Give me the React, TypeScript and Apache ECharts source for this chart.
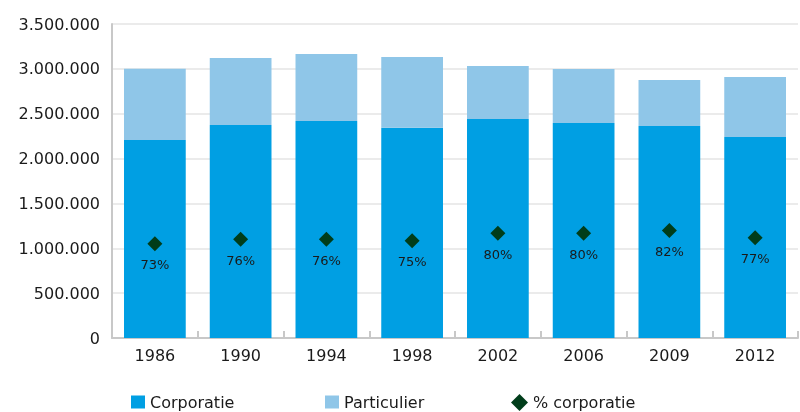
import React, { useEffect, useRef } from "react";
import * as echarts from "echarts";

const years = ["1986", "1990", "1994", "1998", "2002", "2006", "2009", "2012"];
const corporatie = [2207000, 2374000, 2419000, 2344000, 2441000, 2397000, 2363000, 2240000];
const particulier = [793000, 747000, 747000, 788000, 591000, 601000, 513000, 669000];
const pctCorporatie = [73, 76, 76, 75, 80, 80, 82, 77];

const FONT = "DejaVu Sans";

function fmt(v: number): string {
  return String(v).replace(/\B(?=(\d{3})+(?!\d))/g, ".");
}

export default function App() {
  const ref = useRef<HTMLDivElement>(null);
  useEffect(() => {
    if (!ref.current) return;
    const chart = echarts.init(ref.current, undefined, { renderer: "svg" });
    const legendText = { fontFamily: FONT, fontSize: 16, color: "#1a1a1a" };
    const common = { top: 394, padding: 0, itemGap: 4, textStyle: legendText, selectedMode: false };
    chart.setOption({
      animation: false,
      textStyle: { fontFamily: FONT },
      grid: { left: 112, right: 2, top: 24, bottom: 74 },
      legend: [
        { ...common, data: ["Corporatie"], left: 131, icon: "rect", itemWidth: 14, itemHeight: 13 },
        { ...common, data: ["Particulier"], left: 325, icon: "rect", itemWidth: 14, itemHeight: 13 },
        { ...common, data: ["% corporatie"], left: 511, icon: "diamond", itemWidth: 17, itemHeight: 17 },
      ],
      xAxis: {
        type: "category",
        data: years,
        axisLine: { lineStyle: { color: "#c8c8c8", width: 2 } },
        axisTick: { show: true, inside: true, length: 7, lineStyle: { color: "#c8c8c8", width: 2 } },
        axisLabel: { fontFamily: FONT, fontSize: 16, color: "#1a1a1a", margin: 9 },
      },
      yAxis: [
        {
          type: "value",
          min: 0,
          max: 3500000,
          interval: 500000,
          axisLine: { show: true, lineStyle: { color: "#c8c8c8", width: 2 } },
          axisTick: { show: false },
          axisLabel: { fontFamily: FONT, fontSize: 16, color: "#1a1a1a", margin: 12, formatter: (v: number) => fmt(v) },
          splitLine: { lineStyle: { color: "#ebebeb", width: 2 } },
        },
        { type: "value", min: 9, max: 222, show: false },
      ],
      series: [
        {
          name: "Corporatie",
          type: "bar",
          stack: "t",
          data: corporatie,
          barCategoryGap: "28%",
          itemStyle: { color: "#009fe3" },
        },
        {
          name: "Particulier",
          type: "bar",
          stack: "t",
          data: particulier,
          itemStyle: { color: "#8fc6e8" },
        },
        {
          name: "% corporatie",
          type: "scatter",
          yAxisIndex: 1,
          data: pctCorporatie,
          symbol: "diamond",
          symbolSize: 15,
          itemStyle: { color: "#003d1a", opacity: 1 },
          label: {
            show: true,
            position: "bottom",
            distance: 7,
            formatter: (p: any) => p.value + "%",
            fontFamily: FONT,
            fontSize: 13,
            color: "#1a1a1a",
          },
          z: 5,
        },
      ],
    });
    return () => chart.dispose();
  }, []);
  return <div ref={ref} style={{ position: "fixed", left: 0, top: 0, width: 800, height: 412 }} />;
}
